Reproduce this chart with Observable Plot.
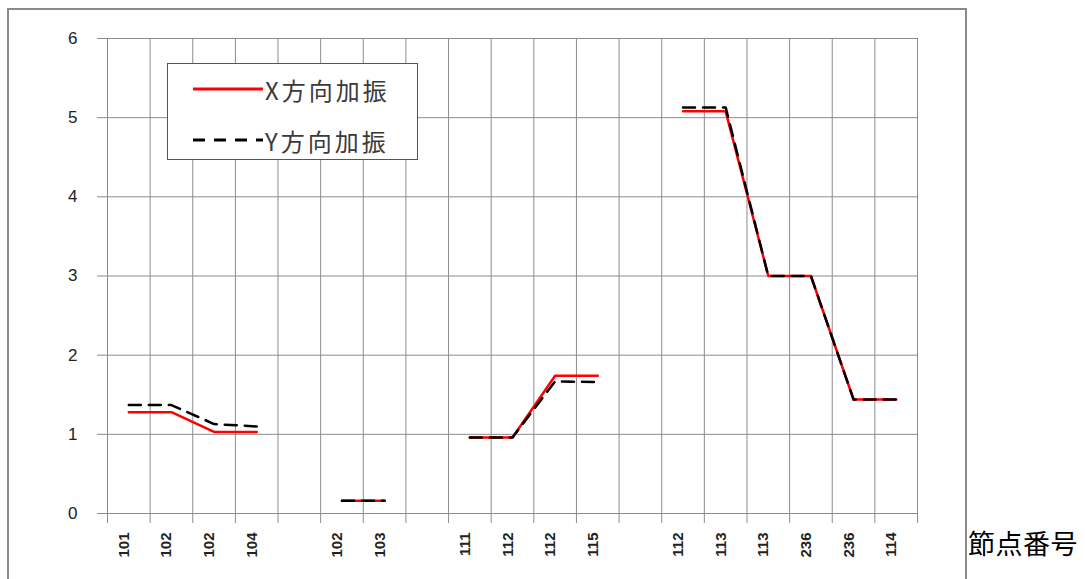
<!DOCTYPE html>
<html><head><meta charset="utf-8">
<script src="https://cdn.jsdelivr.net/npm/d3@7"></script>
<script src="https://cdn.jsdelivr.net/npm/@observablehq/plot@0.6"></script>
<style>
body{margin:0;background:#fff;}
#wrap{position:relative;width:1085px;height:579px;overflow:hidden;}
#chart{position:absolute;left:0;top:0;}
#border{position:absolute;left:7px;top:8px;width:960px;height:580px;border:2px solid #8a8a8a;box-sizing:border-box;}
#legend{position:absolute;left:167px;top:63px;width:251px;height:97px;border:1.5px solid #555;box-sizing:border-box;background:#fff;font-family:"Noto Sans CJK JP",sans-serif;}
.lg{position:absolute;left:25px;height:30px;display:flex;align-items:center;}
.lg span{font-size:24px;color:#3a3a3a;letter-spacing:3px;margin-left:2px;}
#xtitle{position:absolute;left:968px;top:523px;font-size:27px;font-family:"Noto Sans CJK JP",sans-serif;color:#000;letter-spacing:0.5px;}
g[aria-label="node-labels"] text{letter-spacing:3px;}
</style></head><body>
<div id="wrap">
<div id="border"></div>
<div id="chart"></div>
<div id="legend">
  <div class="lg" style="top:10px"><svg width="70" height="6"><line x1="0" x2="70" y1="3" y2="3" stroke="#ff0000" stroke-width="3"/></svg><span>X方向加振</span></div>
  <div class="lg" style="top:61px"><svg width="70" height="6"><line x1="0" x2="70" y1="3" y2="3" stroke="#000" stroke-width="3" stroke-dasharray="12,9"/></svg><span>Y方向加振</span></div>
</div>
<div id="xtitle">節点番号</div>
</div>
<script>
const nodeLabels = ["101","102","102","104","","102","103","","111","112","112","115","","112","113","113","236","236","114"];
const xDirValues = [1.28,1.28,1.03,1.03,null,0.16,0.16,null,0.96,0.96,1.74,1.74,null,5.08,5.08,3.0,3.0,1.44,1.44];
const yDirValues = [1.37,1.37,1.13,1.10,null,0.16,0.16,null,0.96,0.96,1.67,1.66,null,5.13,5.13,3.0,3.0,1.44,1.44];
const yTicks = [0,1,2,3,4,5,6];

const n = nodeLabels.length;
const idx = d3.range(n);
const bounds = d3.range(n + 1).map(i => i - 0.5);

const plot = Plot.plot({
  width: 1085,
  height: 579,
  marginLeft: 107,
  marginRight: 168,
  marginTop: 38,
  marginBottom: 66,
  style: {fontFamily: "Liberation Sans, Arial, sans-serif", fontSize: "17px", background: "transparent", color: "#222"},
  x: {type: "linear", domain: [-0.5, n - 0.5]},
  y: {domain: [0, 6]},
  marks: [
    Plot.ruleY(yTicks, {stroke: "#8c8c8c", strokeWidth: 1}),
    Plot.ruleX(bounds, {stroke: "#8c8c8c", strokeWidth: 1}),
    Plot.axisY(yTicks, {tickSize: 10, tickPadding: 20, tickFormat: d => String(d), stroke: "#8c8c8c", fontSize: 17, label: null}),
    Plot.axisX(bounds, {tickSize: 10, tickFormat: () => "", stroke: "#8c8c8c", label: null}),
    Plot.text(idx, {x: i => i, text: i => nodeLabels[i], frameAnchor: "bottom", rotate: -90, textAnchor: "end", dy: 19, fontSize: 15, fontWeight: "bold", fill: "#222", ariaLabel: "node-labels"}),
    Plot.line(idx, {x: i => i, y: i => xDirValues[i], stroke: "#ff0000", strokeWidth: 2.5}),
    Plot.line(idx, {x: i => i, y: i => yDirValues[i], stroke: "#000", strokeWidth: 2.5, strokeDasharray: "12,8"})
  ]
});
document.getElementById("chart").appendChild(plot);
</script>
</body></html>
